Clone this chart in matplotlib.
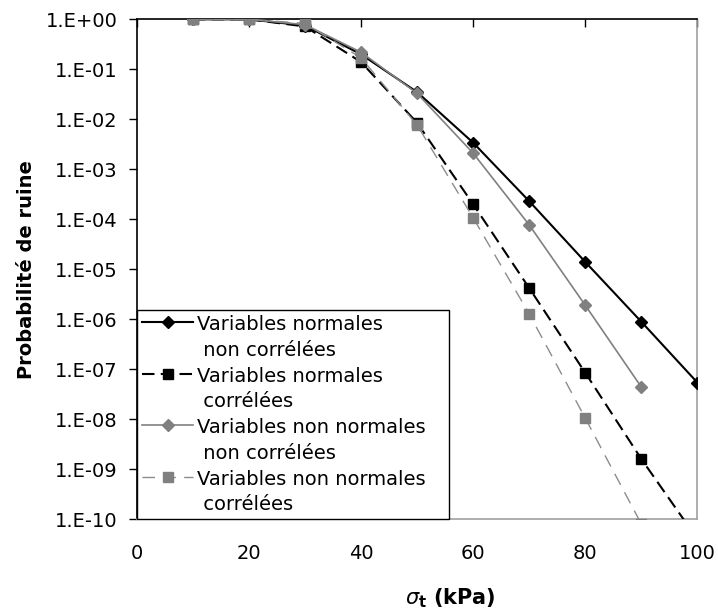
import numpy as np
import matplotlib
matplotlib.use("Agg")
import matplotlib.pyplot as plt
from matplotlib.ticker import FixedLocator, FuncFormatter, NullLocator

plt.rcParams['font.family'] = ['DejaVu Sans']
plt.rcParams['mathtext.fontset'] = 'dejavusans'

# Data
sigma_t = [10, 20, 30, 40, 50, 60, 70, 80, 90, 100]
sigma_t_nn = [10, 20, 30, 40, 50, 60, 70, 80, 90]

p_normal_nc = [1.0, 1.0, 0.75, 0.20, 3.5e-2, 3.4e-3, 2.3e-4, 1.4e-5, 8.9e-7, 5.4e-8]
p_normal_c = [1.0, 1.0, 0.72, 0.14, 8.5e-3, 2.0e-4, 4.2e-6, 8.5e-8, 1.6e-9, 4.0e-11]
p_nonnormal_nc = [1.0, 1.0, 0.78, 0.22, 3.3e-2, 2.1e-3, 7.7e-5, 1.9e-6, 4.4e-8]
p_nonnormal_c = [1.0, 1.0, 0.83, 0.17, 7.7e-3, 1.07e-4, 1.28e-6, 1.05e-8, 8.0e-11]

labels = [
    "Variables normales\n non corrélées",
    "Variables normales\n corrélées",
    "Variables non normales\n non corrélées",
    "Variables non normales\n corrélées",
]

fig = plt.figure(figsize=(7.18, 6.13), dpi=100)
ax = fig.add_axes([0.1904, 0.1529, 0.7810, 0.8156])

ax.plot(sigma_t, p_normal_nc, color="black", lw=1.5, marker="D", ms=6.5,
        label=labels[0], zorder=4)
ax.plot(sigma_t, p_normal_c, color="black", lw=1.5, ls=(0, (6, 3)),
        marker="s", ms=7, label=labels[1], zorder=3)
ax.plot(sigma_t_nn, p_nonnormal_nc, color="#808080", lw=1.2, marker="D",
        ms=6, label=labels[2], zorder=5)
ax.plot(sigma_t_nn, p_nonnormal_c, color="#8c8c8c", lw=1.0, ls=(0, (9, 6)),
        marker="s", ms=7, mfc="#808080", mec="#808080", label=labels[3],
        zorder=6)

ax.set_yscale("log")
ax.set_ylim(1e-10, 1)
ax.set_xlim(0, 100)

decades = [10.0 ** k for k in range(-10, 1)]
ax.yaxis.set_major_locator(FixedLocator(decades))
ax.yaxis.set_minor_locator(NullLocator())
ax.yaxis.set_major_formatter(
    FuncFormatter(lambda v, pos: "1.E{:+03d}".format(int(round(np.log10(v))))))

ax.set_xticks([0, 20, 40, 60, 80, 100])
ax.tick_params(axis="x", top=True, bottom=False, labeltop=False,
               labelbottom=True, direction="in", length=6, width=1,
               labelsize=14, pad=18)
ax.tick_params(axis="y", direction="out", length=6, width=1, labelsize=14,
               pad=8)

for side in ["top", "left"]:
    ax.spines[side].set_color("black")
    ax.spines[side].set_linewidth(1.2)
for side in ["bottom", "right"]:
    ax.spines[side].set_color("#a0a0a0")
    ax.spines[side].set_linewidth(1.2)

ax.set_ylabel("Probabilité de ruine", fontsize=14, fontweight="bold")
ax.yaxis.set_label_coords(-0.18, 0.5)
ax.set_xlabel(r"$\sigma_{\mathbf{t}}$ (kPa)", fontsize=15, fontweight="bold")
ax.xaxis.set_label_coords(0.56, -0.135)

leg = ax.legend(loc="lower left", bbox_to_anchor=(0.0, 0.0, 0.5563, 0.4),
                mode="expand", borderaxespad=0.0,
                fontsize=14, frameon=True, fancybox=False, framealpha=1,
                edgecolor="black", handlelength=2.67, handletextpad=0.2,
                labelspacing=0.35, borderpad=0.25)
leg.get_frame().set_linewidth(1.0)
for t in leg.get_texts():
    t.set_linespacing(1.45)
# put each legend key on the first line of its label
for h in leg.legend_handles:
    h.set_ydata(np.asarray(h.get_ydata()) + 11.3)

fig.savefig("out.png", dpi=100)
